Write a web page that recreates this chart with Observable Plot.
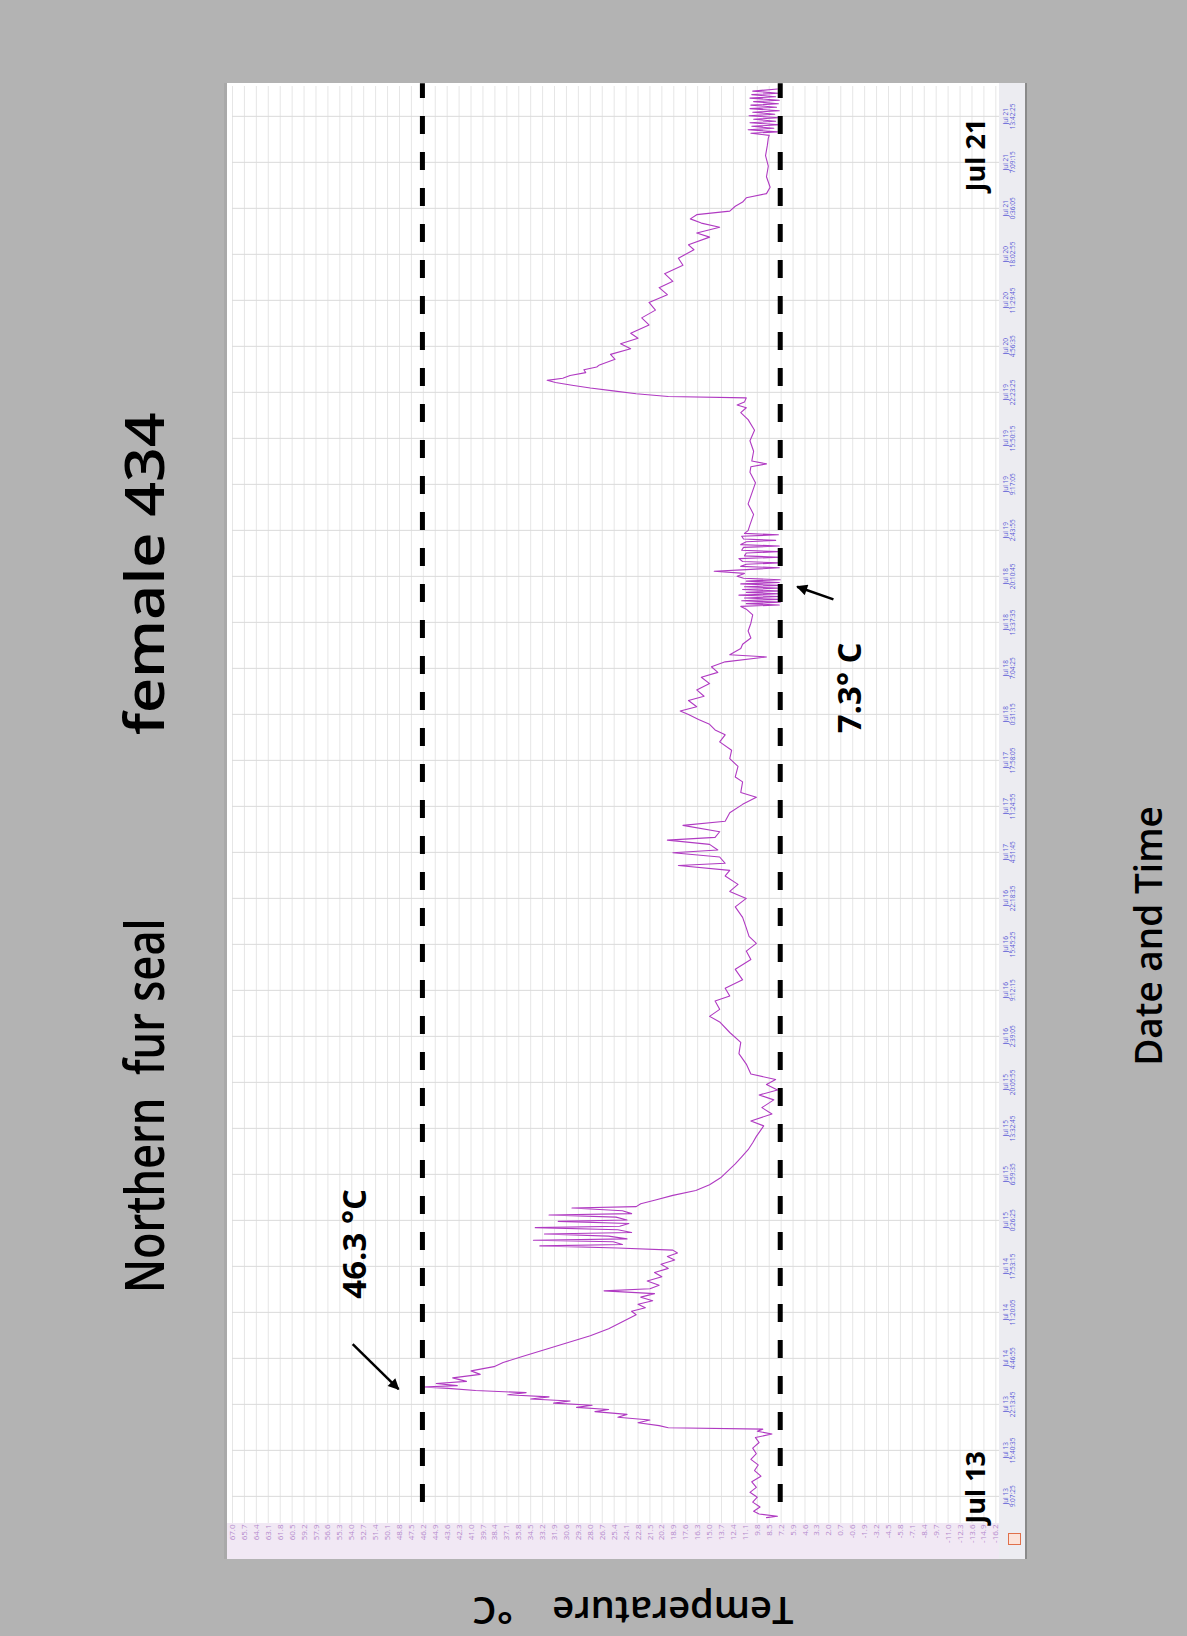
<!DOCTYPE html>
<html><head><meta charset="utf-8">
<script src="https://cdn.jsdelivr.net/npm/d3@7"></script>
<script src="https://cdn.jsdelivr.net/npm/@observablehq/plot@0.6"></script>
<style>
html,body{margin:0;padding:0;width:1187px;height:1636px;overflow:hidden;background:#b3b3b3;}
#frame{position:absolute;left:0;top:0;width:1636px;height:1187px;background:#b3b3b3;transform-origin:0 0;transform:translate(0px,1636px) rotate(-90deg);font-family:"Open Sans",sans-serif;}
#panel{position:absolute;left:77px;top:224px;width:1476px;height:803px;background:#fff;}
#topedge{position:absolute;left:0;top:0;width:1476px;height:3px;background:#a9a9a9;}
#lstrip{position:absolute;left:0;top:0;width:36px;height:775px;background:#f1e8f4;}
#bstrip{position:absolute;left:0;top:775px;width:1476px;height:28px;background:#ececf1;border-bottom:2px solid #8a8a8a;box-sizing:border-box;}
#icon{position:absolute;left:14px;top:784px;width:10px;height:11px;border:1px solid #e0704a;background:#fbe3da;}
#panel svg{position:absolute;left:0;top:0;}
.lbl{position:absolute;white-space:pre;color:#000;line-height:1;}
.ttl{font-size:55px;font-weight:600;transform-origin:0 50%;}
</style></head><body>
<div id="frame">
  <div id="t1" class="lbl ttl" style="left:343px;top:115px;">Northern  fur seal</div>
  <div id="t2" class="lbl ttl" style="left:901px;top:115px;">female 434</div>
  <div id="panel"><div id="lstrip"></div><div id="bstrip"></div><div id="topedge"></div><div id="icon"></div></div>
  <div id="ylab" class="lbl" style="left:24px;top:633px;font-size:38px;font-weight:600;transform:translate(-50%,-50%) rotate(-90deg);">Temperature    °C</div>
  <div id="xlab" class="lbl" style="left:700px;top:1147px;font-size:37px;font-weight:600;transform:translate(-50%,-50%);">Date and Time</div>
</div>
<script>
// Time in hours since Jul 13 00:00, temperature in °C
const hours = [
 6.1,6.3,6.6,7.0,7.6,8.3,9.0,9.7,10.4,11.2,12.0,12.8,13.6,14.4,15.2,16.0,16.8,17.5,18.0,18.4,18.7,
 18.9,19.2,19.6,20.0,20.4,20.8,21.2,21.5,21.8,22.1,22.4,22.7,23.0,23.3,23.6,23.9,24.2,24.5,24.7,24.9,25.2,25.5,
 26.0,26.5,27.0,27.6,28.2,29.0,30.0,31.0,32.0,33.0,34.0,35.0,35.5,36.0,36.5,37.0,37.5,38.0,38.4,38.7,39.2,39.8,
 40.4,41.0,41.6,42.2,42.8,43.3,43.8,44.2,44.5,44.8,45.0,45.4,45.6,45.8,46.2,46.5,46.7,47.1,47.4,47.6,48.0,48.3,
 48.5,48.9,49.2,49.4,49.8,50.2,50.4,50.8,51.3,52.0,52.7,53.5,54.5,55.5,56.5,57.5,58.5,59.5,
 60.4,61.9,62.6,63.6,64.5,65.6,66.3,67.0,67.8,68.5,69.3,70.7,72.2,73.8,
 75.2,76.7,77.5,78.5,79.7,80.4,81.5,82.7,84.2,85.6,86.8,87.9,88.9,
 90.1,91.6,93.1,94.3,95.3,96.3,97.5,98.3,99.0,99.3,100.2,100.8,101.2,102.0,102.6,103.0,103.8,104.7,105.3,106.5,
 107.7,108.7,109.4,110.9,111.6,113.1,114.2,115.4,116.6,117.6,118.3,
 119.1,119.8,120.5,121.0,121.6,122.5,123.1,124.0,124.9,125.8,126.5,127.3,128.0,128.7,129.0,129.9,130.5,131.4,132.4,133.5,134.7,135.5,
 135.9,136.1,136.3,136.5,136.7,136.9,137.1,137.3,137.5,137.7,137.9,138.1,138.3,138.5,138.7,138.9,139.1,139.3,139.5,139.7,139.9,
 140.2,140.6,140.9,141.1,141.4,141.6,141.9,142.1,142.3,142.7,142.9,143.1,143.5,143.7,143.9,144.3,144.5,144.7,145.1,145.3,145.5,145.9,146.1,146.3,146.7,
 147.5,149.0,150.5,152.0,153.5,155.0,155.8,156.2,156.6,158.0,159.5,161.0,162.5,163.5,164.2,164.6,165.0,165.6,
 165.8,166.2,166.6,167.0,167.4,167.8,168.1,168.4,168.8,169.2,169.6,170.0,170.3,171.1,171.8,172.6,173.3,174.1,174.8,
 176.0,177.0,178.1,179.2,180.3,181.3,182.2,183.3,184.5,185.5,186.7,187.4,188.5,189.1,189.9,190.5,191.1,191.7,192.2,
 192.9,193.5,194.1,194.7,195.6,197.1,198.6,200.1,201.6,202.6,
 203.0,203.3,203.5,203.8,204.0,204.3,204.5,204.8,205.0,205.3,205.5,205.8,206.0,206.3,206.5,206.8,207.0,207.3,207.5,207.8,208.0,208.3,208.5,208.8,209.0,209.3,209.6
];
const temps = [
 8.8,7.6,9.6,10.2,9.5,10.3,9.8,10.6,9.9,10.4,9.4,10.1,9.7,10.5,9.9,10.3,9.6,10.0,8.2,9.8,9.2,
 19.5,20.5,22.8,21.5,25.0,24.0,27.5,26.0,29.5,27.8,32.0,30.2,34.5,32.5,37.0,35.0,40.5,43.5,46.3,42.5,44.8,41.5,
 43.0,40.0,41.0,38.5,37.5,35.5,33.0,30.5,28.0,26.0,24.5,23.0,23.5,22.0,22.8,21.2,22.5,21.0,26.5,21.5,20.5,21.8,
 20.2,21.0,19.5,20.3,18.8,19.6,18.5,19.0,25.0,33.5,24.5,25.5,34.2,24.0,26.0,33.0,23.5,25.0,34.0,24.8,23.8,31.5,
 24.0,25.2,32.5,23.5,24.5,30.0,23.0,22.5,21.0,19.0,16.5,15.0,13.8,13.0,12.2,11.5,10.8,10.3,
 9.9,9.1,10.5,8.2,9.3,8.0,9.6,7.6,8.8,7.8,10.5,11.0,11.8,11.6,
 12.8,13.9,15.0,13.9,14.4,12.8,13.3,11.4,12.2,10.5,11.0,9.9,10.7,
 11.0,11.4,12.2,11.0,12.8,11.9,13.3,12.8,18.4,13.3,13.9,19.0,14.1,15.0,19.6,14.4,13.9,17.9,13.3,12.8,
 11.4,9.9,11.6,11.4,12.2,11.9,12.8,12.6,13.9,13.3,14.4,
 15.0,16.2,17.3,18.2,16.4,17.3,15.6,16.4,15.0,15.9,14.1,14.8,13.3,8.8,12.8,11.6,11.4,10.5,10.8,10.5,10.3,11.0,
 11.6,7.4,11.0,7.3,11.5,7.5,11.2,7.3,11.8,7.4,11.0,7.3,11.4,7.6,11.2,7.3,11.6,7.4,11.0,7.3,11.3,
 12.0,11.2,14.5,11.5,7.4,11.6,11.0,7.5,11.4,11.8,7.3,11.2,11.0,7.6,11.5,11.3,7.4,11.6,11.0,7.8,11.3,11.5,7.5,11.2,10.8,
 10.6,10.2,10.8,10.4,10.0,10.6,10.5,8.8,10.4,10.2,10.6,10.1,10.8,11.6,11.0,12.0,11.2,11.0,
 19.5,23.0,25.5,28.0,30.0,31.8,32.7,31.0,30.2,28.5,28.7,27.3,27.0,25.3,25.8,23.6,24.7,22.8,23.6,
 21.6,22.4,20.9,21.6,19.6,20.5,19.0,19.9,17.9,18.4,16.7,17.3,15.0,16.4,13.9,15.9,17.1,16.4,12.8,
 12.2,11.4,11.0,8.8,8.4,8.8,8.6,8.9,8.7,8.6,
 8.5,10.5,7.6,10.8,8.0,10.4,7.4,10.6,7.8,10.2,7.5,10.7,7.9,10.3,7.4,10.6,7.7,10.5,7.5,10.2,7.4,10.6,7.8,10.4,7.5,10.3,7.6
];
// Date tick labels of the logger axis
const dateTicks = [
 "Jul 13 9:07:25","Jul 13 15:40:35","Jul 13 22:13:45","Jul 14 4:46:55","Jul 14 11:20:05","Jul 14 17:53:15",
 "Jul 15 0:26:25","Jul 15 6:59:35","Jul 15 13:32:45","Jul 15 20:05:55","Jul 16 2:39:05","Jul 16 9:12:15",
 "Jul 16 15:45:25","Jul 16 22:18:35","Jul 17 4:51:45","Jul 17 11:24:55","Jul 17 17:58:05","Jul 18 0:31:15",
 "Jul 18 7:04:25","Jul 18 13:37:35","Jul 18 20:10:45","Jul 19 2:43:55","Jul 19 9:17:05","Jul 19 15:50:15",
 "Jul 19 22:23:25","Jul 20 4:56:35","Jul 20 11:29:45","Jul 20 18:02:55","Jul 21 0:36:05","Jul 21 7:09:15",
 "Jul 21 13:42:25"
];
// Temperature tick labels (°C)
const tempTicks = [67.0,65.7,64.4,63.1,61.8,60.5,59.2,57.9,56.6,55.3,54.0,52.7,51.4,50.1,48.8,47.5,46.2,44.9,
 43.6,42.3,41.0,39.7,38.4,37.1,35.8,34.5,33.2,31.9,30.6,29.3,28.0,26.7,25.4,24.1,22.8,21.5,20.2,18.9,17.6,16.3,
 15.0,13.7,12.4,11.1,9.8,8.5,7.2,5.9,4.6,3.3,2.0,0.7,-0.6,-1.9,-3.2,-4.5,-5.8,-7.1,-8.4,-9.7,-11.0,-12.3,-13.6,-14.9,-16.2];
const timeRange = [5.4, 210.1];   // hours since Jul 13 00:00
const tempRange = [-16.6, 67.0];
// reference levels
const refLevels = [46.3, 7.3];
const refSpan = [8.4, 210.5];
// annotations
const annotText = ["46.3 °C", "7.3° C", "Jul 13", "Jul 21"];
const annotHour = [45.1, 124.3, 10.4, 200.2];
const annotTemp = [53.6, -0.3, -14.05, -14.05];
const annotSize = [33, 33, 27, 27];
const arrowFromHour = [30.8, 136.9], arrowFromTemp = [53.9, 1.5];
const arrowToHour = [24.4, 138.7], arrowToTemp = [48.9, 5.45];

const base = Date.UTC(2010, 6, 13, 0, 0, 0);
const toDate = h => new Date(base + h * 3600e3);
const parse = d3.utcParse("%Y %b %d %H:%M:%S");
const tickDates = dateTicks.map(s => parse("2010 " + s));
const series = hours.map((h, i) => ({t: toDate(h), v: temps[i]}));
const refs = refLevels.map(v => ({v, a: toDate(refSpan[0]), b: toDate(refSpan[1])}));
const annots = annotText.map((s, i) => ({s, t: toDate(annotHour[i]), v: annotTemp[i], fs: annotSize[i]}));
const arrows = arrowFromHour.map((h, i) => ({t1: toDate(h), v1: arrowFromTemp[i], t2: toDate(arrowToHour[i]), v2: arrowToTemp[i]}));
const fmtA = d3.utcFormat("%b %d"), fmtB = d3.utcFormat("%-H:%M:%S");

const chart = Plot.plot({
  width: 1476, height: 803,
  marginLeft: 36, marginRight: 3, marginTop: 8, marginBottom: 28,
  style: {background: "transparent", fontFamily: "Open Sans, sans-serif", overflow: "visible"},
  x: {type: "utc", domain: timeRange.map(toDate), label: null},
  y: {domain: tempRange, label: null},
  marks: [
    Plot.gridY(tempTicks, {stroke: "#e6e6e6", strokeOpacity: 1}),
    Plot.gridX(tickDates, {stroke: "#dadada", strokeOpacity: 1}),
    Plot.axisY(tempTicks, {tickSize: 0, tickPadding: 2, fontSize: 8, fill: "#b488cc", tickFormat: d => d.toFixed(1), label: null}),
    Plot.axisX(tickDates, {tickSize: 0, tickPadding: 3, fontSize: 6.5, fill: "#5b5bd6", lineHeight: 1.1, tickFormat: d => fmtA(d) + "\n" + fmtB(d), label: null}),
    Plot.line(series, {x: "t", y: "v", stroke: "#b03ac2", strokeWidth: 1.1}),
    Plot.ruleY(refs, {y: "v", x1: "a", x2: "b", stroke: "#000", strokeWidth: 5, strokeDasharray: "18,18"}),
    Plot.link(arrows, {x1: "t1", y1: "v1", x2: "t2", y2: "v2", stroke: "#000", strokeWidth: 2.5}),
    Plot.text(annots, {x: "t", y: "v", text: "s", fontSize: d => d.fs, fontWeight: "bold", fill: "#000"})
  ]
});
// filled arrowheads for the annotation arrows
const ns = "http://www.w3.org/2000/svg";
const defs = document.createElementNS(ns, "defs");
const marker = document.createElementNS(ns, "marker");
marker.setAttribute("id", "headfill");
marker.setAttribute("viewBox", "0 0 10 10");
marker.setAttribute("refX", "9"); marker.setAttribute("refY", "5");
marker.setAttribute("markerWidth", "5"); marker.setAttribute("markerHeight", "4.4");
marker.setAttribute("orient", "auto");
const tri = document.createElementNS(ns, "path");
tri.setAttribute("d", "M0,0L10,5L0,10Z"); tri.setAttribute("fill", "#000");
marker.appendChild(tri); defs.appendChild(marker); chart.insertBefore(defs, chart.firstChild);
chart.querySelectorAll('g[aria-label="link"] path, g[aria-label="link"] line').forEach(p => p.setAttribute("marker-end", "url(#headfill)"));
document.getElementById("panel").appendChild(chart);

// fit the two title parts to the lengths they have in the picture
const t1 = document.getElementById("t1"), t2 = document.getElementById("t2");
t1.style.transform = `scaleX(${375 / t1.offsetWidth})`;
t2.style.transform = `scaleX(${323 / t2.offsetWidth})`;
</script>
</body></html>
